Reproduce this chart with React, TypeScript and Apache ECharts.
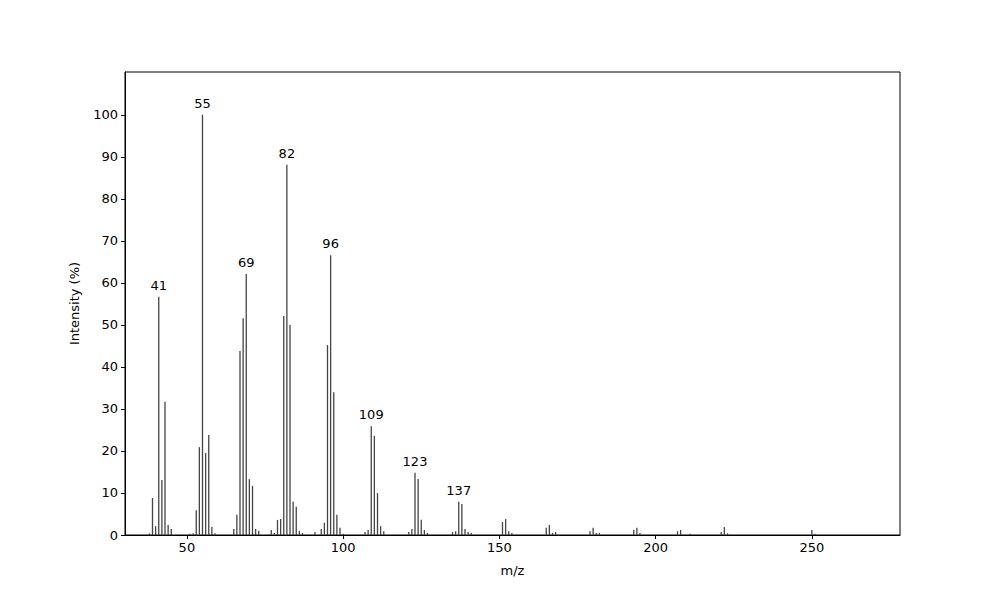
import * as echarts from "echarts"
import { useEffect, useRef } from "react"

const mz = [
  38, 39, 40, 41, 42, 43, 44, 45,
  51, 52, 53, 54, 55, 56, 57, 58, 59,
  65, 66, 67, 68, 69, 70, 71, 72, 73,
  77, 78, 79, 80, 81, 82, 83, 84, 85, 86, 87,
  91, 93, 94, 95, 96, 97, 98, 99, 100,
  107, 108, 109, 110, 111, 112, 113,
  121, 122, 123, 124, 125, 126, 127,
  135, 136, 137, 138, 139, 140, 141,
  151, 152, 153, 154,
  165, 166, 167, 168,
  179, 180, 181, 182,
  193, 194, 195,
  207, 208, 211,
  221, 222, 223,
  250, 251,
]
const intensity = [
  0.4, 8.8, 2.1, 56.7, 13.1, 31.7, 2.4, 1.4,
  0.3, 0.4, 5.9, 20.9, 100, 19.5, 23.8, 1.9, 0.4,
  1.4, 4.8, 43.8, 51.6, 62.1, 13.3, 11.7, 1.4, 1.0,
  1.2, 0.5, 3.6, 3.8, 52.1, 88.1, 50.0, 7.9, 6.7, 1.0, 0.5,
  0.7, 1.4, 2.9, 45.2, 66.6, 34.0, 4.8, 1.7, 0.3,
  0.7, 1.2, 25.9, 23.6, 10.0, 2.1, 0.9,
  0.7, 1.4, 14.8, 13.3, 3.6, 1.2, 0.5,
  0.7, 0.9, 7.9, 7.4, 1.4, 0.7, 0.5,
  3.1, 3.8, 0.9, 0.5,
  1.7, 2.4, 0.5, 0.7,
  0.9, 1.7, 0.5, 0.5,
  1.2, 1.7, 0.5,
  0.9, 1.2, 0.3,
  0.7, 1.9, 0.4,
  1.2, 0.3,
]
// peaks that get their m/z written above the bar
const labelledPeaks = [41, 55, 69, 82, 96, 109, 123, 137]
const xTicks = [50, 100, 150, 200, 250]
const yTicks = [0, 10, 20, 30, 40, 50, 60, 70, 80, 90, 100]

const FONT = "DejaVu Sans"

export default function App() {
  const ref = useRef<HTMLDivElement>(null)

  useEffect(() => {
    if (!ref.current) return
    const chart = echarts.init(ref.current, null, { renderer: "svg" })

    const data = mz.map((m, i) => ({
      value: [m, intensity[i]],
      label: { show: labelledPeaks.includes(m) },
    }))

    chart.setOption({
      animation: false,
      textStyle: { fontFamily: FONT },
      grid: {
        left: 125,
        right: 100,
        top: 72,
        bottom: 65,
        show: true,
        borderColor: "#000",
        borderWidth: 1,
        backgroundColor: "transparent",
      },
      xAxis: {
        type: "value",
        min: 30.2,
        max: 278.2,
        name: "m/z",
        nameLocation: "middle",
        nameGap: 29,
        nameTextStyle: { color: "#000", fontSize: 13, fontFamily: FONT },
        axisLine: { show: true, lineStyle: { color: "#000", width: 1 } },
        axisTick: { show: true, length: 4, customValues: xTicks, lineStyle: { color: "#000" } },
        axisLabel: { customValues: xTicks, color: "#000", fontSize: 13, margin: 6, fontFamily: FONT },
        splitLine: { show: false },
      },
      yAxis: {
        type: "value",
        min: 0,
        max: 110.2,
        name: "Intensity (%)",
        nameLocation: "middle",
        nameGap: 44,
        nameTextStyle: { color: "#000", fontSize: 13, fontFamily: FONT },
        axisLine: { show: true, lineStyle: { color: "#000", width: 1 } },
        axisTick: { show: true, length: 4, customValues: yTicks, lineStyle: { color: "#000" } },
        axisLabel: { customValues: yTicks, color: "#000", fontSize: 13, margin: 7, fontFamily: FONT },
        splitLine: { show: false },
      },
      series: [
        {
          type: "bar",
          data,
          barWidth: 1.3,
          itemStyle: { color: "#444" },
          label: {
            position: "top",
            distance: 5,
            color: "#000",
            fontSize: 13,
            fontFamily: FONT,
            formatter: (p: { value: number[] }) => String(p.value[0]),
          },
        },
      ],
    })

    return () => chart.dispose()
  }, [])

  return <div ref={ref} style={{ width: 1000, height: 600, margin: -8 }} />
}
